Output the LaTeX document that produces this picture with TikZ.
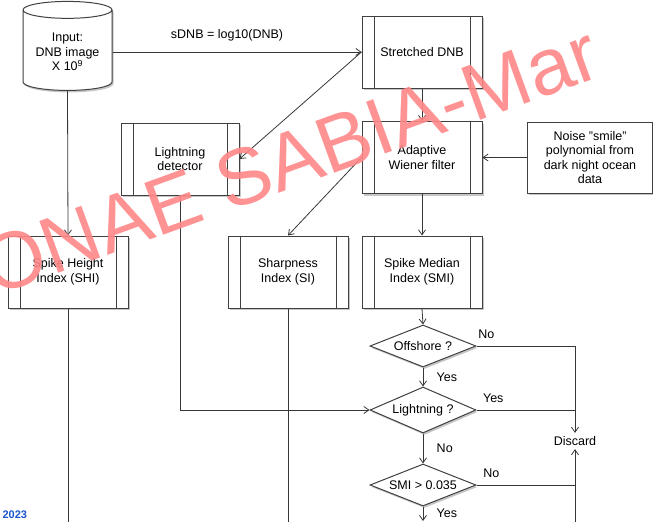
\documentclass[tikz,border=0pt]{standalone}
\usepackage{fontspec}
\setmainfont{Liberation Sans}
\usetikzlibrary{arrows.meta, shapes.geometric, shadows}

\definecolor{linegray}{RGB}{55,55,55}
\definecolor{markpink}{RGB}{255,135,135}
\definecolor{yearblue}{RGB}{25,85,205}

\begin{document}
\begin{tikzpicture}[
    x=1pt, y=-1pt,
    font=\fontsize{12.5}{14.5}\selectfont,
    arr/.style={->, draw=linegray, line width=0.8pt, >={Straight Barb[length=5pt, width=7pt]}},
    link/.style={draw=linegray, line width=0.8pt},
    boxshadow/.style={drop shadow={shadow xshift=1.5pt, shadow yshift=-2pt, opacity=0.45}},
    procbox/.style={rectangle, draw=black!75, line width=1pt, fill=white, boxshadow,
        minimum width=120pt, minimum height=72pt, align=center,
        path picture={\draw[black!75, line width=0.8pt]
            ([xshift=12pt]path picture bounding box.north west) -- ([xshift=12pt]path picture bounding box.south west)
            ([xshift=-12pt]path picture bounding box.north east) -- ([xshift=-12pt]path picture bounding box.south east);}},
    databox/.style={rectangle, draw=black!75, line width=1pt, fill=white, boxshadow,
        minimum width=125pt, minimum height=71pt, align=center},
    dbase/.style={cylinder, shape border rotate=90, aspect=0.24, draw=black!75, line width=1pt,
        fill=white, boxshadow, minimum width=89pt, minimum height=89pt, align=center},
    decision/.style={diamond, aspect=2.5, draw=black!75, line width=1pt, fill=white, boxshadow,
        minimum width=106pt, minimum height=42pt, inner sep=0pt},
]
\useasboundingbox (0,0) rectangle (653,522);

% INPUT AND PRE-PROCESSING
\node[dbase] (input) at (67.5,52) {Input:\\DNB image\\X 10\textsuperscript{9}};
\node[procbox] (stretched) at (422,52) {Stretched DNB};
\node[procbox] (wiener) at (422,157.5) {Adaptive\\Wiener filter};
\node[databox] (noise) at (590,157.5) {Noise "smile"\\polynomial from\\dark night ocean\\data};
\node[procbox, minimum width=118pt] (detector) at (180,159) {Lightning\\detector};

% INDICES
\node[procbox] (shi) at (68,272) {Spike Height\\Index (SHI)};
\node[procbox] (sharp) at (288,272) {Sharpness\\Index (SI)};
\node[procbox] (smi) at (422,272) {Spike Median\\Index (SMI)};

% DECISIONS
\node[decision] (offshore) at (423,346) {Offshore ?};
\node[decision, minimum height=46pt] (light) at (423,410) {Lightning ?};
\node[decision] (smithr) at (423,485) {SMI > 0.035};
\node (discard) at (575,441) {Discard};

\coordinate (shiend) at (68,522);
\coordinate (sharpend) at (288,522);
\coordinate (smiend) at (423,521);
\coordinate (discbot) at (575,522);

% Connectors
\draw[arr] (input) -- node[pos=0.46, above=7pt] {sDNB = log10(DNB)} (stretched);
\draw[arr] (stretched.west) -- (detector.east);
\draw[arr] (stretched) -- (wiener);
\draw[arr] (noise) -- (wiener);
\draw[arr] (wiener.west) -- (sharp.north);
\draw[arr] (wiener) -- (smi);
\draw[arr] (input.south) -- (shi.north);
\draw[link] (shi) -- (shiend);
\draw[link] (sharp) -- (sharpend);
\draw[arr] (detector.south) |- (light.west);
\draw[arr] (smi.south) -- (offshore.north);
\draw[arr] (offshore) -- node[right=10pt] {Yes} (light);
\draw[arr] (light) -- node[right=10pt] {No} (smithr);
\draw[arr] (smithr) -- node[right=10pt] {Yes} (smiend);
\draw[arr] (offshore.east) -| node[pos=0.05, above=4pt] {No} (discard.north);
\draw[link] (light.east) -- node[pos=0.17, above=4pt] {Yes} (light.east -| discard.north);
\draw[link] (smithr.east) -- node[pos=0.15, above=4pt] {No} (smithr.east -| discard.north);
\draw[arr] (discbot) -- (discard.south);

% Overlays
\node[anchor=west, text=yearblue, font=\bfseries\fontsize{11}{13}\selectfont] (year) at (-1,515) {2023};
\node[rotate=20, text=markpink, opacity=0.9, font=\fontsize{80}{90}\selectfont] (mark) at (290,160) {ONAE SABIA-Mar};
\end{tikzpicture}
\end{document}
